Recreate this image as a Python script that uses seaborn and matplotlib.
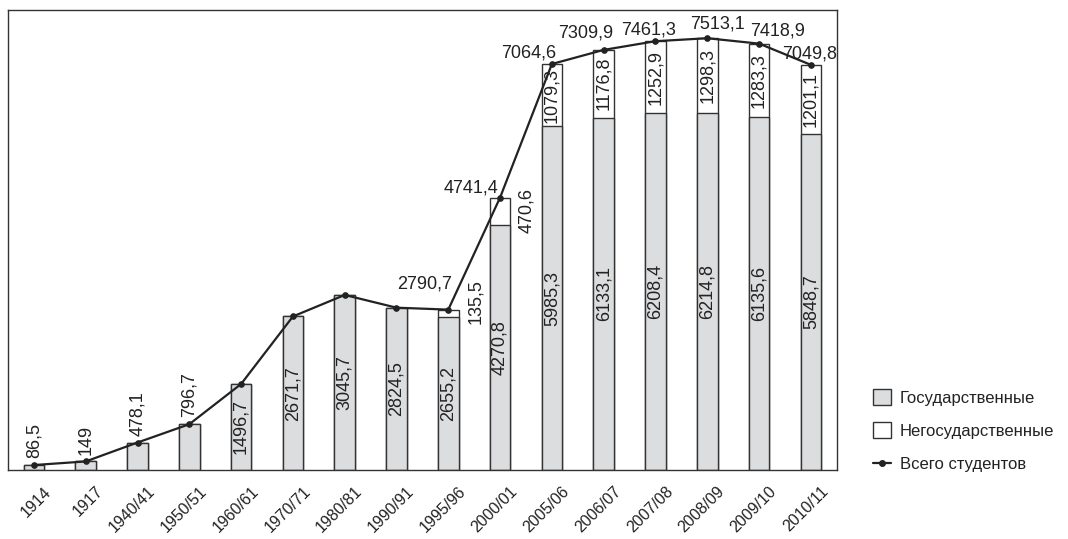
import numpy as np
import pandas as pd
import matplotlib
matplotlib.use('Agg')
import matplotlib.pyplot as plt
import seaborn as sns
from matplotlib import font_manager
from matplotlib.patches import Patch
from matplotlib.lines import Line2D
from matplotlib.transforms import ScaledTranslation

periods = ['1914', '1917', '1940/41', '1950/51', '1960/61', '1970/71', '1980/81',
           '1990/91', '1995/96', '2000/01', '2005/06', '2006/07', '2007/08',
           '2008/09', '2009/10', '2010/11']
state = [86.5, 149, 478.1, 796.7, 1496.7, 2671.7, 3045.7, 2824.5, 2655.2,
         4270.8, 5985.3, 6133.1, 6208.4, 6214.8, 6135.6, 5848.7]
private = [0, 0, 0, 0, 0, 0, 0, 0, 135.5, 470.6, 1079.3, 1176.8, 1252.9,
           1298.3, 1283.3, 1201.1]
total = [86.5, 149, 478.1, 796.7, 1496.7, 2671.7, 3045.7, 2824.5, 2790.7,
         4741.4, 7064.6, 7309.9, 7461.3, 7513.1, 7418.9, 7049.8]
legend_labels = ['Государственные', 'Негосударственные', 'Всего студентов']

df = pd.DataFrame({'period': periods, 'state': state, 'private': private, 'total': total})

sns.set_theme(style='white')
installed = {f.name for f in font_manager.fontManager.ttflist}
if 'Liberation Sans Narrow' in installed:
    plt.rcParams['font.family'] = ['Liberation Sans Narrow', 'DejaVu Sans']
    fs = 14.5
else:
    plt.rcParams['font.family'] = ['Liberation Sans', 'DejaVu Sans']
    fs = 13

dark = '#222222'
grey = '#dcdddf'


def fmt(v):
    return str(int(v)) if float(v).is_integer() else f'{v:.1f}'.replace('.', ',')


fig = plt.figure(figsize=(10.68, 5.39), dpi=100)
ax = fig.add_axes([0.0075, 0.128, 0.776, 0.853])

# white bar = total height, grey bar = state part drawn over it
sns.barplot(data=df, x='period', y='total', color='white', saturation=1,
            width=0.4, edgecolor='#333333', linewidth=1.0, ax=ax)
sns.barplot(data=df, x='period', y='state', color=grey, saturation=1,
            width=0.4, edgecolor='#333333', linewidth=1.0, ax=ax)
sns.lineplot(x=np.arange(len(df)), y=df['total'], color=dark, linewidth=1.6,
             marker='o', markersize=4, markeredgecolor=dark, ax=ax)

ax.set_xlim(-0.5, len(df) - 0.5)
ax.set_ylim(0, 8000)
ax.set_xlabel('')
ax.set_ylabel('')
ax.set_yticks([])
ax.tick_params(axis='x', length=0, pad=10)
ax.set_xticks(range(len(df)))
ax.set_xticklabels(periods, rotation=45, ha='right', va='top',
                   rotation_mode='anchor', fontsize=fs - 1.5, color=dark)
shift = ScaledTranslation(7 / 72, 0, fig.dpi_scale_trans)
for lab in ax.get_xticklabels():
    lab.set_transform(lab.get_transform() + shift)
for s in ax.spines.values():
    s.set_color('#333333')
    s.set_linewidth(1.0)

# vertical labels
for i, row in df.iterrows():
    if i < 4:
        ax.annotate(fmt(row['state']), (i, row['state']), xytext=(0, 5),
                    textcoords='offset points', rotation=90, ha='center',
                    va='bottom', fontsize=fs, color=dark)
    else:
        ax.text(i, row['state'] / 2, fmt(row['state']), rotation=90,
                ha='center', va='center', fontsize=fs, color=dark)
    if i >= 10:
        ax.text(i, row['state'] + row['private'] / 2, fmt(row['private']),
                rotation=90, ha='center', va='center', fontsize=fs, color=dark)

# private share next to the bar for 1995/96 and 2000/01
side = {8: (20, 6), 9: (19, -9)}
for i, (dx, dy) in side.items():
    ax.annotate(fmt(df.loc[i, 'private']), (i, df.loc[i, 'total']),
                xytext=(dx, dy), textcoords='offset points', rotation=90,
                ha='center', va='center', fontsize=fs, color=dark)

# totals, horizontal
tot_off = {8: (-17, 12), 9: (-21, 1), 10: (-17, 2), 11: (-13, 6), 12: (-5, 2),
           13: (7, 4), 14: (13, 3), 15: (-1, 2)}
for i, (dx, dy) in tot_off.items():
    ax.annotate(fmt(df.loc[i, 'total']), (i, df.loc[i, 'total']),
                xytext=(dx, dy), textcoords='offset points', ha='center',
                va='bottom', fontsize=fs, color=dark, annotation_clip=False)

handles = [Patch(facecolor=grey, edgecolor='#333333', linewidth=1.0),
           Patch(facecolor='white', edgecolor='#333333', linewidth=1.0),
           Line2D([], [], color=dark, linewidth=1.6, marker='o', markersize=4)]
fig.legend(handles, legend_labels, loc='upper left',
           bbox_to_anchor=(858 / 1068, 1 - 374 / 539), frameon=False,
           fontsize=fs - 1, handlelength=1.1, handleheight=1.1,
           handletextpad=0.5, labelspacing=1.0, labelcolor=dark)

fig.savefig('out.png', dpi=100)
